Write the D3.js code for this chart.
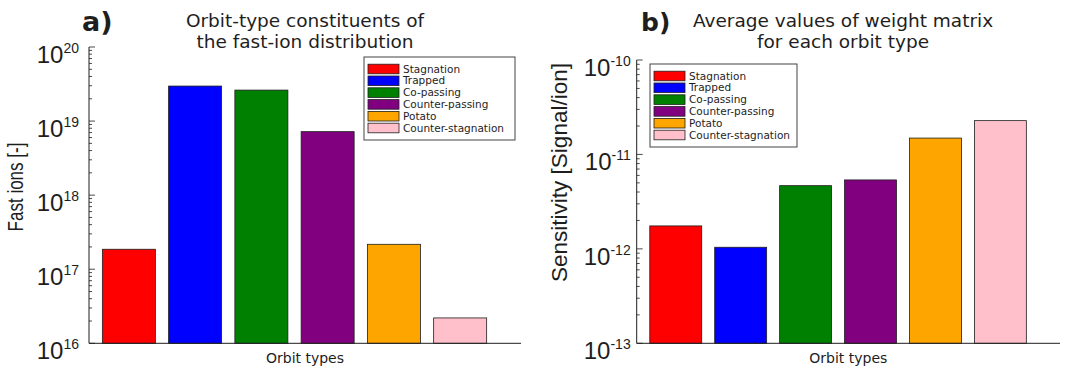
<!DOCTYPE html>
<html>
<head>
<meta charset="utf-8">
<script src="https://cdn.jsdelivr.net/npm/d3@7"></script>
<style>
  html, body { margin: 0; padding: 0; background: #fff; }
  svg { display: block; }
</style>
</head>
<body>
<svg id="chart" width="1065" height="369"></svg>
<script>
// Orbit classes shared by both panels
const orbitTypes = ["Stagnation", "Trapped", "Co-passing", "Counter-passing", "Potato", "Counter-stagnation"];
const orbitColors = ["#ff0000", "#0000ff", "#008000", "#800080", "#ffa500", "#ffc0cb"];

// Panel a: number of fast ions per orbit type
const fastIons = [1.86e17, 2.97e19, 2.62e19, 7.2e18, 2.17e17, 2.2e16];
const fastIonExponents = [16, 17, 18, 19, 20];

// Panel b: mean weight-matrix sensitivity per orbit type
const sensitivity = [1.75e-12, 1.04e-12, 4.67e-12, 5.37e-12, 1.49e-11, 2.28e-11];
const sensitivityExponents = [-13, -12, -11, -10];

const svg = d3.select("#chart");
const ink = "#1e1e1e";
const sans = "'DejaVu Sans', sans-serif";
const arial = "'Liberation Sans', Arial, sans-serif";

function drawPanel(cfg) {
  const g = svg.append("g");
  const x = d3.scaleBand()
    .domain(orbitTypes)
    .range([cfg.left, cfg.right])
    .paddingInner(0.2)
    .paddingOuter(0.36)
    .align(0.28);
  const exps = cfg.exponents;
  const y = d3.scaleLog()
    .domain([Math.pow(10, exps[0]), Math.pow(10, exps[exps.length - 1])])
    .range([cfg.bottom, cfg.top]);

  // bars
  g.selectAll("rect.bar")
    .data(cfg.values)
    .join("rect")
    .attr("class", "bar")
    .attr("x", (d, i) => x(orbitTypes[i]))
    .attr("width", x.bandwidth())
    .attr("y", d => y(d))
    .attr("height", d => cfg.bottom - y(d))
    .attr("fill", (d, i) => orbitColors[i])
    .attr("stroke", ink)
    .attr("stroke-width", 0.8);

  // log ticks, drawn inward from the left spine
  const allTicks = y.ticks();
  const isDecade = d => Math.abs(Math.log10(d) - Math.round(Math.log10(d))) < 1e-9;
  g.selectAll("line.tick")
    .data(allTicks)
    .join("line")
    .attr("class", "tick")
    .attr("x1", cfg.left)
    .attr("x2", d => cfg.left + (isDecade(d) ? 6 : 3))
    .attr("y1", d => y(d))
    .attr("y2", d => y(d))
    .attr("stroke", ink)
    .attr("stroke-width", 0.8);

  // spines
  g.append("line")
    .attr("x1", cfg.left).attr("x2", cfg.left)
    .attr("y1", cfg.top).attr("y2", cfg.bottom)
    .attr("stroke", ink).attr("stroke-width", 1);
  g.append("line")
    .attr("x1", cfg.left).attr("x2", cfg.right)
    .attr("y1", cfg.bottom).attr("y2", cfg.bottom)
    .attr("stroke", ink).attr("stroke-width", 1);

  // decade labels 10^n
  const lab = g.selectAll("text.ytl")
    .data(exps)
    .join("text")
    .attr("class", "ytl")
    .attr("x", cfg.left - cfg.labelGap)
    .attr("y", e => y(Math.pow(10, e)) + 16)
    .attr("text-anchor", "end")
    .attr("font-family", arial)
    .attr("font-size", 24)
    .attr("fill", ink);
  lab.append("tspan").text("10");
  lab.append("tspan")
    .attr("dy", -10)
    .attr("font-size", 14)
    .text(e => String(e));

  // y-axis title
  g.append("text")
    .attr("transform", `translate(${cfg.yTitleX},${cfg.yTitleY}) rotate(-90) scale(1,${cfg.yTitleStretch})`)
    .attr("text-anchor", "middle")
    .attr("font-family", arial)
    .attr("font-size", cfg.yTitleSize)
    .attr("fill", ink)
    .text(cfg.yTitle);

  // x-axis title
  g.append("text")
    .attr("x", (cfg.left + cfg.right) / 2)
    .attr("y", 363)
    .attr("text-anchor", "middle")
    .attr("font-family", sans)
    .attr("font-size", 14)
    .attr("fill", ink)
    .text("Orbit types");

  // panel title
  cfg.title.forEach((line, i) => {
    g.append("text")
      .attr("x", cfg.titleX)
      .attr("y", 27 + i * 21)
      .attr("text-anchor", "middle")
      .attr("font-family", sans)
      .attr("font-size", 18.5)
      .attr("fill", ink)
      .text(line);
  });

  // panel letter
  g.append("text")
    .attr("x", cfg.letterX)
    .attr("y", 31)
    .attr("font-family", sans)
    .attr("font-weight", "bold")
    .attr("font-size", cfg.letterSize)
    .attr("fill", ink)
    .text(cfg.letter);

  // legend
  const lg = g.append("g").attr("transform", `translate(${cfg.legendX},${cfg.legendY})`);
  lg.append("rect")
    .attr("width", cfg.legendW).attr("height", 83)
    .attr("fill", "#fff")
    .attr("stroke", "#444").attr("stroke-width", 1);
  const rows = lg.selectAll("g.row")
    .data(orbitTypes)
    .join("g")
    .attr("class", "row")
    .attr("transform", (d, i) => `translate(4,${12 + i * 11.8})`);
  rows.append("rect")
    .attr("x", 0).attr("y", -4.8)
    .attr("width", 31).attr("height", 9.6)
    .attr("fill", (d, i) => orbitColors[i])
    .attr("stroke", ink).attr("stroke-width", 0.8);
  rows.append("text")
    .attr("x", 35)
    .attr("y", 0)
    .attr("dy", "0.35em")
    .attr("font-family", sans)
    .attr("font-size", 10.5)
    .attr("fill", ink)
    .text(d => d);
}

drawPanel({
  left: 89, right: 521, top: 47, bottom: 343.3,
  values: fastIons, exponents: fastIonExponents, labelGap: 10,
  yTitle: "Fast ions [-]", yTitleX: 23, yTitleY: 187, yTitleSize: 17, yTitleStretch: 1.3,
  title: ["Orbit-type constituents of", "the fast-ion distribution"], titleX: 305,
  letter: "a)", letterX: 82, letterSize: 27,
  legendX: 364, legendY: 57, legendW: 151
});

drawPanel({
  left: 636.7, right: 1060, top: 60, bottom: 343.3,
  values: sensitivity, exponents: sensitivityExponents, labelGap: 6,
  yTitle: "Sensitivity [Signal/ion]", yTitleX: 567, yTitleY: 172.5, yTitleSize: 22.5, yTitleStretch: 1,
  title: ["Average values of weight matrix", "for each orbit type"], titleX: 843,
  letter: "b)", letterX: 641, letterSize: 25,
  legendX: 650, legendY: 64, legendW: 147
});
</script>
</body>
</html>
